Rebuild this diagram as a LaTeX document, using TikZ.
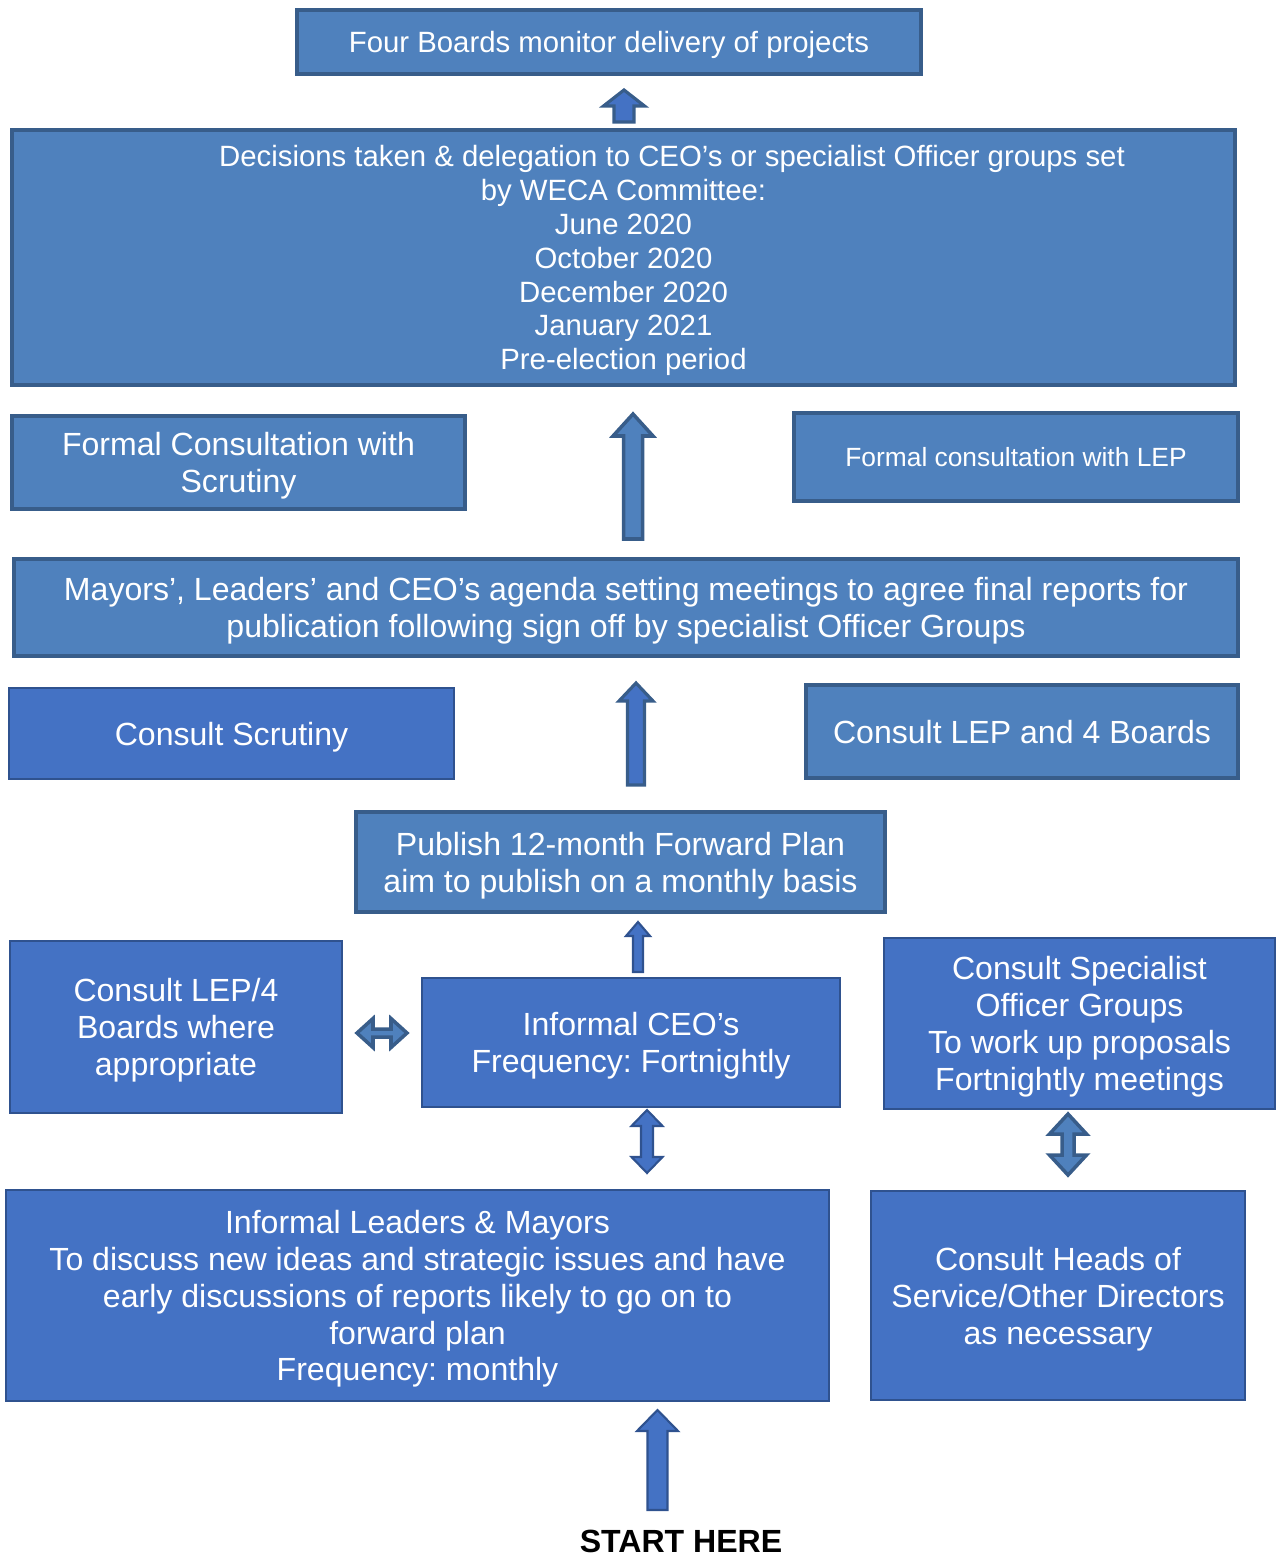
\documentclass[tikz,border=0pt]{standalone}
\usepackage{fontspec}
\setmainfont{Liberation Sans}
\frenchspacing

\definecolor{steelfill}{HTML}{4F81BD}
\definecolor{steelline}{HTML}{385D8A}
\definecolor{royalfill}{HTML}{4472C4}
\definecolor{royalline}{HTML}{2F528F}

\tikzset{
  steelbox/.style={draw=steelline,fill=steelfill,line width=2.2pt,text=white,align=center,inner sep=2pt,text depth=0pt},
  royalbox/.style={draw=royalline,fill=royalfill,line width=1.1pt,text=white,align=center,inner sep=2pt,text depth=0pt},
  steelarr/.style={draw=steelline,fill=steelfill,line width=2pt,line join=miter},
  royalarr/.style={draw=royalline,fill=royalfill,line width=1.2pt,line join=miter},
  big/.style={font=\fontsize{18.25}{21}\selectfont},
  mid/.style={font=\fontsize{16.7}{19.3}\selectfont},
  small/.style={font=\fontsize{15}{18}\selectfont}
}

% block arrows: style, x, tip y, tail y, half shaft, half head, head length
\newcommand{\blockup}[7]{%
  \draw[#1] ({#2-#5},#4) -- ({#2-#5},{#3+#7}) -- ({#2-#6},{#3+#7}) -- (#2,#3)
    -- ({#2+#6},{#3+#7}) -- ({#2+#5},{#3+#7}) -- ({#2+#5},#4) -- cycle;}
% style, x, top y, bottom y, half shaft, half head, head length
\newcommand{\blockupdown}[7]{%
  \draw[#1] (#2,#3) -- ({#2+#6},{#3+#7}) -- ({#2+#5},{#3+#7}) -- ({#2+#5},{#4-#7})
    -- ({#2+#6},{#4-#7}) -- (#2,#4) -- ({#2-#6},{#4-#7}) -- ({#2-#5},{#4-#7})
    -- ({#2-#5},{#3+#7}) -- ({#2-#6},{#3+#7}) -- cycle;}
% style, y, left x, right x, half shaft, half head, head length
\newcommand{\blockleftright}[7]{%
  \draw[#1] (#3,#2) -- ({#3+#7},{#2-#6}) -- ({#3+#7},{#2-#5}) -- ({#4-#7},{#2-#5})
    -- ({#4-#7},{#2-#6}) -- (#4,#2) -- ({#4-#7},{#2+#6}) -- ({#4-#7},{#2+#5})
    -- ({#3+#7},{#2+#5}) -- ({#3+#7},{#2+#6}) -- cycle;}

\begin{document}
\begin{tikzpicture}[x=0.02cm,y=-0.02cm]

  \useasboundingbox (0,0) rectangle (1277,1558);

  \begin{scope}[every node/.style={steelbox}]
    \node[mid,minimum width=12.48cm,minimum height=1.28cm] (boards) at (609,42)
      {Four Boards monitor delivery of projects};
    \node[mid,minimum width=24.46cm,minimum height=5.10cm] (decisions) at (623.5,257.5)
      {\hspace*{1.94cm}Decisions taken \& delegation to CEO’s or specialist Officer groups set\\
       by WECA Committee:\\June 2020\\October 2020\\December 2020\\January 2021\\Pre-election period};
    \node[big,minimum width=9.06cm,minimum height=1.86cm] (formalscr) at (238.5,462.5)
      {Formal Consultation with\\Scrutiny};
    \node[small,minimum width=8.88cm,minimum height=1.76cm] (formallep) at (1016,457)
      {Formal consultation with LEP};
    \node[big,minimum width=24.48cm,minimum height=1.94cm] (agenda) at (626,607.5)
      {Mayors’, Leaders’ and CEO’s agenda setting meetings to agree final reports for\\
       publication following sign off by specialist Officer Groups};
    \node[big,minimum width=8.64cm,minimum height=1.86cm] (consultlep) at (1022,731.5)
      {Consult LEP and 4 Boards};
    \node[big,minimum width=10.58cm,minimum height=2.00cm] (publish) at (620.5,862)
      {Publish 12-month Forward Plan\\aim to publish on a monthly basis};
  \end{scope}

  \begin{scope}[every node/.style={royalbox,big}]
    \node[minimum width=8.90cm,minimum height=1.82cm] (consultscr) at (231.5,733.5)
      {Consult Scrutiny};
    \node[minimum width=6.64cm,minimum height=3.44cm] (lepboards) at (176,1027)
      {Consult LEP/4\\Boards where\\appropriate};
    \node[minimum width=8.36cm,minimum height=2.58cm] (ceo) at (631,1042.5)
      {Informal CEO’s\\Frequency: Fortnightly};
    \node[minimum width=7.82cm,minimum height=3.42cm] (specialist) at (1079.5,1023.5)
      {Consult Specialist\\Officer Groups\\To work up proposals\\Fortnightly meetings};
    \node[minimum width=16.46cm,minimum height=4.22cm] (leaders) at (417.5,1295.5)
      {Informal Leaders \& Mayors\\To discuss new ideas and strategic issues and have\\
       early discussions of reports likely to go on to\\forward plan\\Frequency: monthly};
    \node[minimum width=7.48cm,minimum height=4.18cm] (heads) at (1058,1295.5)
      {Consult Heads of\\Service/Other Directors\\as necessary};
  \end{scope}

  \node[font=\fontsize{18.25}{21}\selectfont\bfseries,inner sep=0pt] (start) at (681,1541) {START HERE};

  % arrows
  \blockup{royalarr,draw=steelline,line width=1.8pt}{624}{90}{122}{10}{20.5}{16}
  \blockup{steelarr}{633}{414}{539}{9.5}{20}{22}
  \blockup{royalarr,draw=steelline,line width=1.8pt}{636}{683}{785}{8.5}{17}{18}
  \blockup{royalarr}{638}{922}{972}{5}{12}{14}
  \blockleftright{steelarr}{1033}{357}{407}{4}{14.5}{16}
  \blockupdown{royalarr}{647}{1110}{1173}{6}{15.5}{16}
  \blockupdown{steelarr}{1068}{1114}{1175}{6}{18.5}{20}
  \blockup{royalarr}{657.5}{1410}{1510}{10}{20.5}{21}

\end{tikzpicture}
\end{document}
